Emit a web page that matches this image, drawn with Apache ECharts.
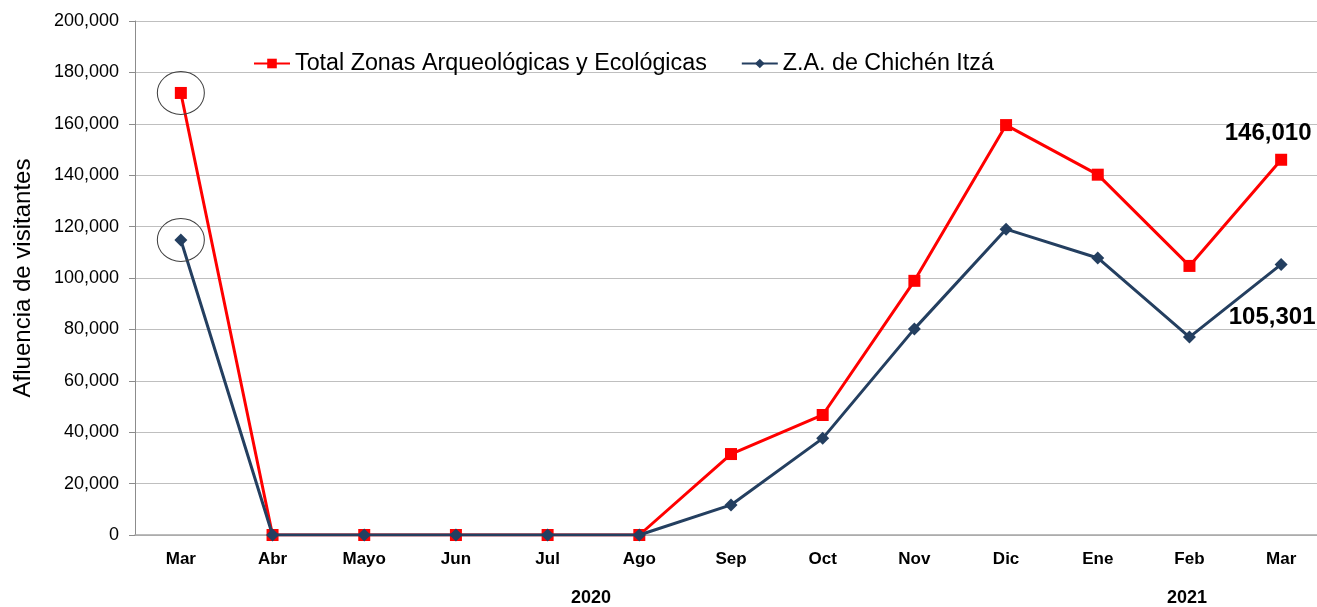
<!DOCTYPE html>
<html>
<head>
<meta charset="utf-8">
<script src="https://cdn.jsdelivr.net/npm/echarts@6/dist/echarts.min.js"></script>
<style>
  html, body { margin: 0; padding: 0; background: #fff; overflow: hidden; }
  /* el grafico original sale recortado por la derecha */
  #chart { width: 1327px; height: 607px; }
</style>
</head>
<body>
<div id="chart"></div>
<script>
// meses (mar 2020 - mar 2021)
const months = ["Mar", "Abr", "Mayo", "Jun", "Jul", "Ago", "Sep", "Oct", "Nov", "Dic", "Ene", "Feb", "Mar"];
const totalZonas = [172000, 0, 0, 0, 0, 0, 31500, 46700, 98900, 159500, 140200, 104700, 146010];
const chichenItza = [114800, 0, 0, 0, 0, 0, 11700, 37600, 80200, 119000, 107800, 77000, 105301];
const yTicks = { min: 0, max: 200000, interval: 20000 };
const yearLabels = [{ text: "2020", x: 594 }, { text: "2021", x: 1190 }];

const fmt = (v) => Number(v).toLocaleString("en-US");

const chart = echarts.init(document.getElementById("chart"));

// ultimo punto con etiqueta
function withLastLabel(values, offset, position) {
  return values.map((v, i) => {
    if (i !== values.length - 1) return v;
    return {
      value: v,
      label: {
        show: true,
        position: position,
        offset: offset,
        formatter: (p) => fmt(p.value),
        fontFamily: "Liberation Sans",
        fontWeight: "bold",
        fontSize: 24,
        color: "#000",
      },
    };
  });
}

// elipses alrededor del primer punto
function firstCircle(values) {
  return {
    silent: true,
    symbol: "circle",
    symbolSize: [47, 43],
    itemStyle: { color: "rgba(0,0,0,0)", borderColor: "#404040", borderWidth: 1 },
    label: { show: false },
    data: [{ coord: [0, values[0]] }],
  };
}

const option = {
  animation: false,
  textStyle: { fontFamily: "Liberation Sans" },
  grid: { left: 135, top: 21, right: 0, height: 514, containLabel: false },
  legend: {
    left: 248,
    top: 47,
    itemGap: 34,
    itemWidth: 36,
    itemHeight: 12,
    textStyle: { fontSize: 23.3, color: "#000", fontFamily: "Liberation Sans" },
    data: ["Total Zonas Arqueológicas y Ecológicas", "Z.A. de Chichén Itzá"],
  },
  xAxis: {
    type: "category",
    data: months,
    boundaryGap: true,
    axisLine: { lineStyle: { color: "#a6a6a6", width: 1.5 } },
    axisTick: { show: false },
    axisLabel: {
      interval: 0,
      margin: 16,
      fontSize: 17,
      fontWeight: "bold",
      color: "#000",
      fontFamily: "Liberation Sans",
    },
  },
  yAxis: {
    type: "value",
    min: yTicks.min,
    max: yTicks.max,
    interval: yTicks.interval,
    name: "Afluencia de visitantes",
    nameLocation: "middle",
    nameGap: 100,
    nameTextStyle: { fontSize: 24, color: "#000", fontFamily: "Liberation Sans" },
    axisLine: { show: true, lineStyle: { color: "#8c8c8c" } },
    axisTick: { show: true, length: 6, lineStyle: { color: "#8c8c8c" } },
    axisLabel: {
      formatter: fmt,
      fontSize: 18,
      color: "#000",
      margin: 16,
      fontFamily: "Liberation Sans",
    },
    splitLine: { lineStyle: { color: "#bfbfbf", width: 1.2 } },
  },
  graphic: yearLabels.map((y) => ({
    type: "text",
    left: y.x - 23,
    top: 589,
    style: { text: y.text, fontSize: 18, fontWeight: "bold", fill: "#000", fontFamily: "Liberation Sans" },
  })),
  series: [
    {
      name: "Total Zonas Arqueológicas y Ecológicas",
      type: "line",
      data: withLastLabel(totalZonas, [-13, -3], "top"),
      symbol: "rect",
      symbolSize: 12,
      lineStyle: { color: "#ff0000", width: 3 },
      itemStyle: { color: "#ff0000" },
      markPoint: firstCircle(totalZonas),
      z: 2,
    },
    {
      name: "Z.A. de Chichén Itzá",
      type: "line",
      data: withLastLabel(chichenItza, [-9, 29], "bottom"),
      symbol: "diamond",
      symbolSize: 13,
      lineStyle: { color: "#243f60", width: 3 },
      itemStyle: { color: "#243f60" },
      markPoint: firstCircle(chichenItza),
      z: 3,
    },
  ],
};

chart.setOption(option);
</script>
</body>
</html>
